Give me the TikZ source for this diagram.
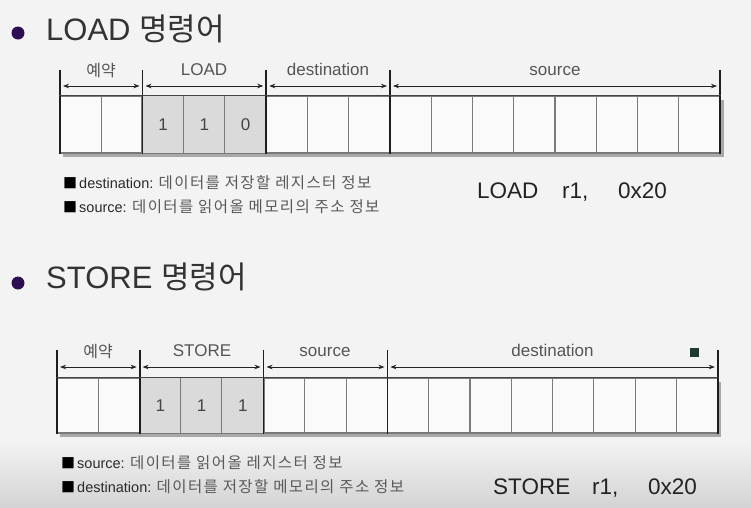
\documentclass[tikz,border=0pt]{standalone}
\usepackage{fontspec}
\setmainfont{Liberation Sans}
\newfontfamily\kr{Noto Sans CJK KR}
\newfontfamily\krs[LetterSpace=9]{Noto Sans CJK KR}
\usetikzlibrary{arrows.meta}
\definecolor{bg}{HTML}{F3F3F3}
\definecolor{bgdark}{HTML}{D4D4D4}
\definecolor{titlec}{HTML}{333333}
\definecolor{dotc}{HTML}{2E0E52}
\definecolor{gridc}{HTML}{7A7A7A}
\definecolor{boundc}{HTML}{1E1E1E}
\definecolor{botc}{HTML}{444444}
\definecolor{shadowc}{HTML}{A8A8A8}
\definecolor{cellc}{HTML}{FAFAFA}
\definecolor{opfill}{HTML}{DADADA}
\definecolor{labc}{HTML}{555555}
\definecolor{krc}{HTML}{595959}
\definecolor{latc}{HTML}{2A2A2A}
\definecolor{codec}{HTML}{222222}
\definecolor{sqc}{HTML}{1C3A30}
\tikzset{
  titletext/.style={anchor=base west,inner sep=0,font=\fontsize{31}{31}\selectfont,text=titlec},
  bulletdot/.style={circle,fill=dotc,minimum size=13pt,inner sep=0},
  cell/.style={draw=gridc,line width=1.1pt,fill=cellc,inner sep=0},
  opcell/.style={draw=gridc,line width=1.1pt,fill=opfill},
  bound/.style={draw=boundc,line width=1.8pt},
  botline/.style={draw=botc,line width=1.6pt},
  dimarrow/.style={draw=codec,line width=0.8pt,{Stealth[length=6pt,width=4.5pt]}-{Stealth[length=6pt,width=4.5pt]}},
  flabel/.style={anchor=base,inner sep=0,font=\fontsize{17}{17}\selectfont,text=labc},
  klabel/.style={anchor=base,inner sep=0,font=\kr\fontsize{16}{16}\selectfont,text=labc},
  digit/.style={inner sep=0,font=\fontsize{17}{17}\selectfont,text=botc},
  codetext/.style={anchor=base west,inner sep=0,font=\fontsize{22.5}{22.5}\selectfont,text=codec},
  infoline/.style={anchor=base west,inner sep=0},
  sqbullet/.style={inner sep=0,font=\kr\fontsize{14}{14}\selectfont,text=black},
  marksq/.style={fill=sqc,minimum size=9pt,inner sep=0}
}
\newcommand\infotext[2]{{\color{latc}\fontsize{14.5}{14.5}\selectfont #1 }{\krs\color{krc}\fontsize{15.5}{15.5}\selectfont #2}}
% #1 prefix, #2 x0, #3 cell width, #4 tick top, #5 arrow y, #6 cell top, #7 cell bottom
\newcommand\drawreg[7]{%
  \fill[shadowc] (#2+3,#6+4) rectangle (#2+16*#3+3.5,#7+3.5);
  \foreach \i in {1,...,16}{
    \node[cell,minimum width=#3 pt,minimum height={#7-#6}] (#1\i) at ({#2+(\i-0.5)*#3},{(#6+#7)/2}) {};
  }
  \foreach \i in {3,4,5}{
    \path[opcell] (#1\i.south west) rectangle (#1\i.north east);
  }
  \foreach \k in {0,2,5,8,16}{
    \coordinate (#1b\k) at ({#2+\k*#3},#4);
    \coordinate (#1a\k) at ({#2+\k*#3},#5);
    \draw[bound] (#1b\k) -- ({#2+\k*#3},#7+0.8);
  }
  \draw[botline] (#11.north west) -- (#116.north east);
  \draw[dimarrow] ([xshift=3pt]#1a0) -- ([xshift=-3pt]#1a2);
  \draw[dimarrow] ([xshift=3pt]#1a2) -- ([xshift=-3pt]#1a5);
  \draw[dimarrow] ([xshift=3pt]#1a5) -- ([xshift=-3pt]#1a8);
  \draw[dimarrow] ([xshift=3pt]#1a8) -- ([xshift=-3pt]#1a16);
}
\begin{document}
\begin{tikzpicture}[x=1pt,y=-1pt]
\useasboundingbox (0,0) rectangle (751,507);
\fill[bg] (0,0) rectangle (751,507);
\shade[top color=bg,bottom color=bgdark] (0,440) rectangle (751,507);

% ---------- LOAD ----------
\node[bulletdot] (dotA) at (18,33) {};
\node[titletext] (titleA) at (46,40) {LOAD {\kr 명령어}};

\drawreg{a}{60}{41.25}{70}{86}{96}{153}
\node[klabel] (la1) at (101,76) {예약};
\node[flabel] (la2) at (204,75) {LOAD};
\node[flabel] (la3) at (328,75) {destination};
\node[flabel] (la4) at (555,75) {source};
\node[digit] at (a3) {1};
\node[digit] at (a4) {1};
\node[digit] at (a5) {0};

\node[sqbullet] (sa1) at (70,183) {■};
\node[infoline] (ia1) at (79,188) {\infotext{destination:}{데이터를 저장할 레지스터 정보}};
\node[sqbullet] (sa2) at (70,207) {■};
\node[infoline] (ia2) at (79,212) {\infotext{source:}{데이터를 읽어올 메모리의 주소 정보}};

\node[codetext] (ca1) at (477,198.5) {LOAD};
\node[codetext] (ca2) at (562,198.5) {r1,};
\node[codetext] (ca3) at (618,198.5) {0x20};

% ---------- STORE ----------
\node[bulletdot] (dotB) at (18,283) {};
\node[titletext] (titleB) at (46,288) {STORE {\kr 명령어}};

\drawreg{b}{57}{41.3}{350}{367}{378}{433}
\node[klabel] (lb1) at (98,357) {예약};
\node[flabel] (lb2) at (202,356) {STORE};
\node[flabel] (lb3) at (325,356) {source};
\node[flabel] (lb4) at (552.5,356) {destination};
\node[marksq] (mk) at (694,352) {};
\node[digit] at (b3) {1};
\node[digit] at (b4) {1};
\node[digit] at (b5) {1};

\node[sqbullet] (sb1) at (68,463) {■};
\node[infoline] (ib1) at (77,468) {\infotext{source:}{데이터를 읽어올 레지스터 정보}};
\node[sqbullet] (sb2) at (68,487) {■};
\node[infoline] (ib2) at (77,492) {\infotext{destination:}{데이터를 저장할 메모리의 주소 정보}};

\node[codetext] (cb1) at (493,494.5) {STORE};
\node[codetext] (cb2) at (592,494.5) {r1,};
\node[codetext] (cb3) at (648,494.5) {0x20};
\end{tikzpicture}
\end{document}
